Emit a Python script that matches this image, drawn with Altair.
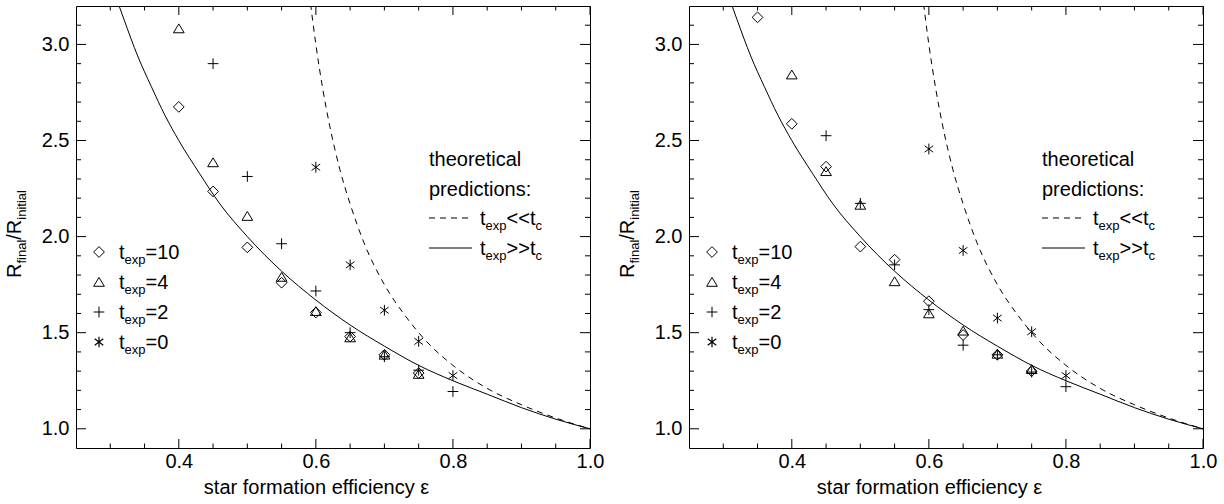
import altair as alt
import pandas as pd

FONT = "Liberation Sans"
MAIN = 20
SUB = 13
SUB_DY = 5
PW, PH = 514, 442

# ---------------- data ----------------
groups = ["10", "4", "2", "0"]

# left panel
L_eps_10 = [0.40, 0.45, 0.50, 0.55, 0.60, 0.65, 0.70, 0.75]
L_R_10 = [2.675, 2.235, 1.944, 1.76, 1.605, 1.48, 1.385, 1.29]
L_eps_4 = [0.40, 0.45, 0.50, 0.55, 0.60, 0.65, 0.70, 0.75]
L_R_4 = [3.083, 2.386, 2.107, 1.79, 1.612, 1.475, 1.385, 1.285]
L_eps_2 = [0.45, 0.50, 0.55, 0.60, 0.65, 0.70, 0.75, 0.80]
L_R_2 = [2.90, 2.313, 1.963, 1.717, 1.50, 1.375, 1.305, 1.194]
L_eps_0 = [0.60, 0.65, 0.70, 0.75, 0.80]
L_R_0 = [2.361, 1.853, 1.617, 1.455, 1.277]

# right panel
R_eps_10 = [0.35, 0.40, 0.45, 0.50, 0.55, 0.60, 0.65, 0.70, 0.75]
R_R_10 = [3.141, 2.587, 2.364, 1.948, 1.880, 1.664, 1.488, 1.385, 1.30]
R_eps_4 = [0.40, 0.45, 0.50, 0.55, 0.60, 0.65, 0.70, 0.75]
R_R_4 = [2.843, 2.34, 2.165, 1.767, 1.60, 1.51, 1.39, 1.31]
R_eps_2 = [0.45, 0.50, 0.55, 0.60, 0.65, 0.70, 0.75, 0.80]
R_R_2 = [2.525, 2.173, 1.853, 1.62, 1.435, 1.385, 1.295, 1.219]
R_eps_0 = [0.60, 0.65, 0.70, 0.75, 0.80]
R_R_0 = [2.456, 1.928, 1.576, 1.505, 1.277]

# theoretical curves
solid_eps = [0.30, 0.32, 0.34, 0.36, 0.38, 0.40, 0.43, 0.46, 0.50, 0.55, 0.60,
             0.65, 0.70, 0.75, 0.80, 0.85, 0.90, 0.95, 1.00]
solid_R = [3.33, 3.13, 2.94, 2.78, 2.63, 2.50, 2.33, 2.17, 2.00, 1.82, 1.67,
           1.54, 1.43, 1.33, 1.25, 1.18, 1.11, 1.05, 1.00]
dashed_eps = [0.585, 0.59, 0.60, 0.61, 0.62, 0.635, 0.65, 0.67, 0.70, 0.73,
              0.76, 0.80, 0.85, 0.90, 0.95, 1.00]
dashed_R = [3.44, 3.28, 3.00, 2.77, 2.58, 2.35, 2.17, 1.97, 1.75, 1.59,
            1.46, 1.33, 1.21, 1.125, 1.056, 1.00]

# axes
X_DOMAIN = [0.25, 1.0]
Y_DOMAIN = [0.9, 3.2]
x_major = [0.4, 0.6, 0.8, 1.0]
x_minor = [0.30, 0.35, 0.45, 0.50, 0.55, 0.65, 0.70, 0.75, 0.85, 0.90, 0.95]
y_major = [1.0, 1.5, 2.0, 2.5, 3.0]
y_minor = [1.1, 1.2, 1.3, 1.4, 1.6, 1.7, 1.8, 1.9, 2.1, 2.2, 2.3, 2.4,
           2.6, 2.7, 2.8, 2.9, 3.1]

# marker shapes (unit paths)
SHAPES = {
    "10": "M0,-1L1,0L0,1L-1,0Z",
    "4": "M0,-0.85L1,0.8L-1,0.8Z",
    "2": "M-1,0L1,0M0,-1L0,1",
    "0": "M0,-1L0,1M-0.8,-0.6L0.8,0.6M-0.8,0.6L0.8,-0.6",
}

# Arial / Liberation Sans advance widths (per 1000 em)
W = {'t': 278, 'e': 556, 'x': 500, 'p': 556, '=': 584, '1': 556, '0': 556,
     '4': 556, '2': 556, '<': 584, '>': 584, 'c': 500, 'R': 722, 'f': 278,
     'i': 222, 'n': 556, 'a': 556, 'l': 222, '/': 278}


def textw(s, size):
    return sum(W.get(ch, 556) for ch in s) / 1000.0 * size


def pts_df(e10, r10, e4, r4, e2, r2, e0, r0):
    rows = []
    for g, es, rs in (("10", e10, r10), ("4", e4, r4), ("2", e2, r2), ("0", e0, r0)):
        for e, r in zip(es, rs):
            rows.append({"eps": e, "R": r, "group": g})
    return pd.DataFrame(rows)


solid_df = pd.DataFrame({"eps": solid_eps, "R": solid_R})
dashed_df = pd.DataFrame({"eps": dashed_eps, "R": dashed_R})

common = dict(grid=False, domain=False, ticks=False,
              labelFont=FONT, labelColor="black", labelFontSize=MAIN,
              labelFlush=False, labelOverlap=False,
              titleFont=FONT, titleColor="black", titleFontSize=MAIN,
              titleFontWeight="normal")

MAJ = 9
MIN = 4.5

ax_bottom = alt.Axis(orient="bottom", values=x_major, format=".1f", labelPadding=3,
                     title="star formation efficiency ε", titlePadding=6,
                     titleX=240, **common)
ax_left = alt.Axis(orient="left", values=y_major, format=".1f", labelPadding=7,
                   title=None, **common)

XS = alt.Scale(domain=X_DOMAIN, nice=False, zero=False)
YS = alt.Scale(domain=Y_DOMAIN, nice=False, zero=False)


def xenc(axis=alt.Undefined):
    return alt.X("eps:Q", scale=XS, axis=axis)


def yenc(axis=alt.Undefined):
    return alt.Y("R:Q", scale=YS, axis=axis)


def one():
    return alt.Data(values=[{}])


def text_layer(s, x, y, size=MAIN, angle=0):
    return alt.Chart(one()).mark_text(
        text=s, font=FONT, fontSize=size, color="black", align="left",
        baseline="alphabetic", angle=angle
    ).encode(x=alt.value(x), y=alt.value(y))


def rich(parts, x, y, rotate=False):
    layers = []
    off = 0.0
    for s, sub in parts:
        size = SUB if sub else MAIN
        dy = SUB_DY if sub else 0
        if rotate:
            layers.append(text_layer(s, x + dy, y - off, size, angle=270))
        else:
            layers.append(text_layer(s, x + off, y + dy, size))
        off += textw(s, size)
    return layers


def marker(g, x, y):
    return alt.Chart(one()).mark_point(
        shape=SHAPES[g], size=115, filled=False, color="black",
        strokeWidth=1.2 if g == "0" else 1, opacity=1
    ).encode(x=alt.value(x), y=alt.value(y))


def xticks(vals, length):
    df = pd.DataFrame({"eps": vals})
    base = alt.Chart(df).mark_rule(color="black", strokeWidth=1)
    return [
        base.encode(x=xenc(), y=alt.value(PH), y2=alt.value(PH - length)),
        base.encode(x=xenc(), y=alt.value(0), y2=alt.value(length)),
    ]


def yticks(vals, length):
    df = pd.DataFrame({"R": vals})
    base = alt.Chart(df).mark_rule(color="black", strokeWidth=1)
    return [
        base.encode(y=yenc(), x=alt.value(0), x2=alt.value(length)),
        base.encode(y=yenc(), x=alt.value(PW), x2=alt.value(PW - length)),
    ]


def panel(df):
    solid = alt.Chart(solid_df).mark_line(
        color="black", strokeWidth=1, clip=True, interpolate="monotone"
    ).encode(x=xenc(ax_bottom), y=yenc(ax_left))
    dashed = alt.Chart(dashed_df).mark_line(
        color="black", strokeWidth=1, clip=True, interpolate="monotone",
        strokeDash=[6, 5]
    ).encode(x=xenc(), y=yenc())
    points = alt.Chart(df).mark_point(
        filled=False, color="black", size=115, opacity=1
    ).encode(
        x=xenc(), y=yenc(),
        shape=alt.Shape("group:N",
                        scale=alt.Scale(domain=groups,
                                        range=[SHAPES[g] for g in groups]),
                        legend=None),
        strokeWidth=alt.StrokeWidth("group:N",
                                    scale=alt.Scale(domain=groups,
                                                    range=[1, 1, 1, 1.2]),
                                    legend=None),
    )

    layers = [solid, dashed, points]
    layers += xticks(x_major, MAJ) + xticks(x_minor, MIN)
    layers += yticks(y_major, MAJ + 1) + yticks(y_minor, MIN + 0.5)
    # y title
    layers += rich([("R", False), ("final", True), ("/R", False), ("initial", True)],
                   -55, 272, rotate=True)
    # data legend
    for i, g in enumerate(groups):
        yy = 246 + 30 * i
        layers.append(marker(g, 23, yy))
        layers += rich([("t", False), ("exp", True), ("=" + g, False)], 43, yy + 7)
    # theoretical legend
    layers.append(text_layer("theoretical", 353, 160))
    layers.append(text_layer("predictions:", 353, 190))
    layers.append(alt.Chart(one()).mark_rule(
        color="black", strokeWidth=1, strokeDash=[6, 5]
    ).encode(x=alt.value(353), x2=alt.value(396), y=alt.value(212)))
    layers += rich([("t", False), ("exp", True), ("<<t", False), ("c", True)], 404, 219)
    layers.append(alt.Chart(one()).mark_rule(
        color="black", strokeWidth=1
    ).encode(x=alt.value(353), x2=alt.value(396), y=alt.value(242)))
    layers += rich([("t", False), ("exp", True), (">>t", False), ("c", True)], 404, 249)

    return alt.layer(*layers).properties(width=PW, height=PH)


left = panel(pts_df(L_eps_10, L_R_10, L_eps_4, L_R_4, L_eps_2, L_R_2, L_eps_0, L_R_0))
right = panel(pts_df(R_eps_10, R_R_10, R_eps_4, R_R_4, R_eps_2, R_R_2, R_eps_0, R_R_0))

chart = alt.hconcat(left, right, spacing=99, bounds="flush").configure_view(
    stroke="black", strokeWidth=1
).properties(padding={"left": 4, "top": 5, "right": 5, "bottom": 5},
             background="white")

chart.save("out.html", embed_options={"renderer": "svg", "actions": False})
